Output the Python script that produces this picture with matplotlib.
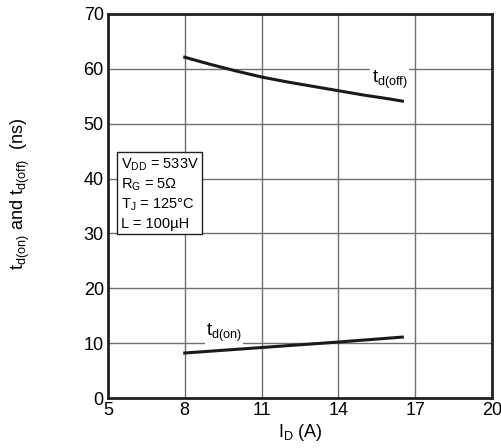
import matplotlib
matplotlib.use("Agg")
import matplotlib.pyplot as plt

plt.rcParams['font.family'] = ['Liberation Sans', 'DejaVu Sans']
plt.rcParams['mathtext.fontset'] = 'custom'
plt.rcParams['mathtext.rm'] = 'Liberation Sans'
plt.rcParams['mathtext.it'] = 'Liberation Sans'

id_off = [8, 9, 10, 11, 12, 13, 14, 15, 16, 16.5]
td_off = [62.1, 60.8, 59.6, 58.5, 57.6, 56.8, 56.0, 55.2, 54.5, 54.1]
id_on = [8, 11, 14, 16.5]
td_on = [8.2, 9.2, 10.2, 11.1]

xticks = [5, 8, 11, 14, 17, 20]
yticks = [0, 10, 20, 30, 40, 50, 60, 70]

fig = plt.figure(figsize=(5.02, 4.48), dpi=100)
ax = fig.add_axes([0.215, 0.1116, 0.765, 0.8574])
ax.set_xlim(5, 20)
ax.set_ylim(0, 70)
ax.set_xticks(xticks)
ax.set_yticks(yticks)
ax.tick_params(length=0, labelsize=13, pad=3)
for s in ax.spines.values():
    s.set_linewidth(2)
    s.set_color('#222222')
ax.grid(True, color='#707070', linewidth=1)
ax.set_axisbelow(True)

ax.plot(id_off, td_off, color='#1a1a1a', lw=2.2)
ax.plot(id_on, td_on, color='#1a1a1a', lw=2.2)

ax.text(15.3, 58.0, r'$\mathregular{t_{d(off)}}$', fontsize=13, ha='left', va='center',
        bbox=dict(facecolor='white', edgecolor='none', pad=1))
ax.text(8.83, 11.9, r'$\mathregular{t_{d(on)}}$', fontsize=13, ha='left', va='center',
        bbox=dict(facecolor='white', edgecolor='none', pad=1))

ax.text(5.5, 37.2,
        r'$\mathregular{V_{DD}}$ = 533V' + '\n' + r'$\mathregular{R_G}$ = 5Ω' + '\n' +
        r'$\mathregular{T_J}$ = 125°C' + '\n' + 'L = 100µH',
        fontsize=10.5, ha='left', va='center', linespacing=1.3,
        bbox=dict(facecolor='white', edgecolor='#222222', linewidth=1, boxstyle='square', pad=0.25))

ax.set_xlabel(r'$\mathregular{I_D}$ (A)', fontsize=13, labelpad=2)
ax.set_ylabel(r'$\mathregular{t_{d(on)}}$ and $\mathregular{t_{d(off)}}$  (ns)', fontsize=13)
ax.yaxis.set_label_coords(-0.198, 0.53)

fig.savefig('out.png', dpi=100)
